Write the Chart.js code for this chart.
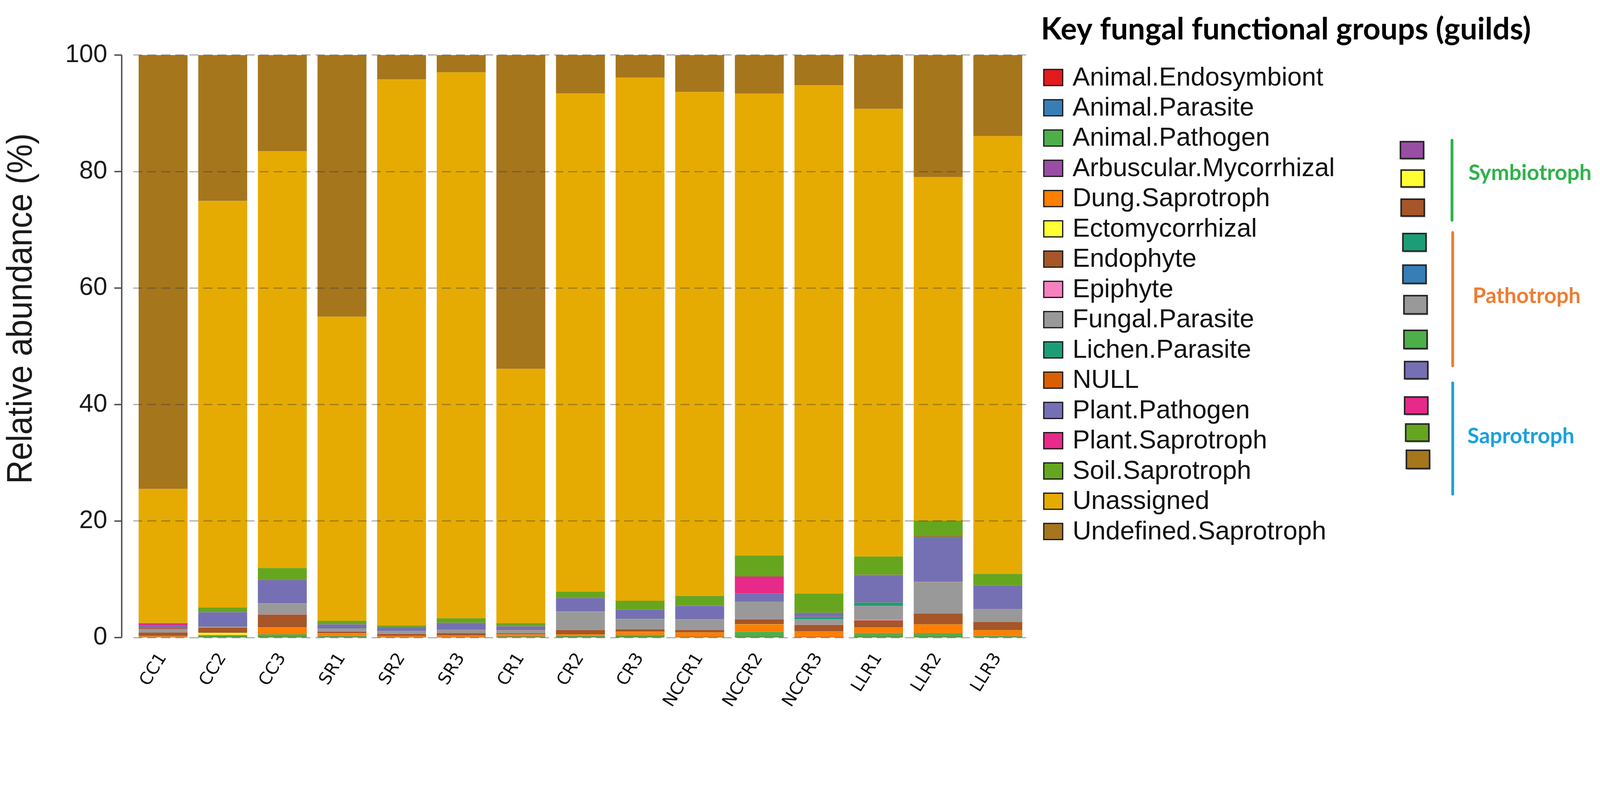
<!DOCTYPE html>
<html>
<head>
<meta charset="utf-8">
<script src="https://cdn.jsdelivr.net/npm/chart.js@4.4.1/dist/chart.umd.min.js"></script>
<style>
html,body{margin:0;padding:0;background:#ffffff;overflow:hidden;}
#wrap{position:absolute;left:0;top:0;width:4562px;height:2043px;transform-origin:0 0;}
canvas{display:block;}
</style>
</head>
<body>
<div id="wrap"><canvas id="chart" width="4562" height="2043" style="width:4562px;height:2043px"></canvas></div>
<script>
// ---------------- DATA (relative abundance, %) ----------------
const samples = ['CC1','CC2','CC3','SR1','SR2','SR3','CR1','CR2','CR3','NCCR1','NCCR2','NCCR3','LLR1','LLR2','LLR3'];

const animalEndosymbiont   = [0.05,0.03,0.04,0.03,0.03,0.03,0.03,0.04,0.03,0.03,0.04,0.03,0.04,0.03,0.03];
const animalParasite       = [0.02,0.02,0.02,0.02,0.02,0.02,0.02,0.03,0.02,0.02,0.03,0.02,0.03,0.03,0.02];
const animalPathogen       = [0.05,0.3,0.5,0.2,0.05,0.05,0.15,0.2,0.4,0.08,0.9,0.05,0.7,0.7,0.2];
const arbuscularMycorrhizal= [0.03,0.02,0.02,0.02,0.02,0.02,0.02,0.02,0.02,0.02,0.02,0.02,0.02,0.02,0.02];
const dungSaprotroph       = [0.1,0.1,1.15,0.45,0.15,0.2,0.3,0.25,0.5,0.7,1.25,0.9,0.95,1.45,0.95];
const ectomycorrhizal      = [0.02,0.35,0.02,0.02,0.02,0.02,0.02,0.02,0.02,0.02,0.02,0.02,0.02,0.02,0.02];
const endophyte            = [0.6,0.9,2.2,0.3,0.35,0.45,0.2,0.75,0.45,0.45,0.9,1.15,1.2,1.9,1.45];
const epiphyte             = [0.02,0.02,0.02,0.02,0.02,0.02,0.02,0.02,0.02,0.02,0.02,0.02,0.1,0.02,0.02];
const fungalParasite       = [0.5,0.1,1.85,0.45,0.45,0.5,0.45,3.1,1.7,1.75,2.95,0.95,2.35,5.35,2.15];
const lichenParasite       = [0.02,0.02,0.02,0.02,0.02,0.02,0.02,0.02,0.02,0.02,0.02,0.35,0.6,0.02,0.02];
const nullGuild            = [0.15,0.03,0.03,0.03,0.03,0.03,0.03,0.03,0.03,0.03,0.03,0.03,0.03,0.03,0.03];
const plantPathogen        = [0.6,2.45,4.0,0.7,0.65,1.15,0.65,2.3,1.6,2.3,1.4,0.7,4.7,7.6,4.05];
const plantSaprotroph      = [0.3,0.02,0.02,0.02,0.02,0.02,0.02,0.02,0.02,0.02,2.9,0.02,0.02,0.15,0.02];
const soilSaprotroph       = [0.05,0.8,2.05,0.6,0.25,0.8,0.55,1.1,1.5,1.7,3.6,3.3,3.15,2.75,1.95];
const unassigned           = [23.0,69.8,71.55,52.2,93.75,93.7,43.65,85.5,89.8,86.5,79.3,87.25,76.85,59.0,75.15];
const undefinedSaprotroph  = [74.6,25.1,16.6,45.0,4.3,3.1,53.9,6.7,3.9,6.5,6.7,5.3,9.4,21.0,14.0];

const yTicks = [0,20,40,60,80,100];

const guildNames = ['Animal.Endosymbiont','Animal.Parasite','Animal.Pathogen','Arbuscular.Mycorrhizal',
  'Dung.Saprotroph','Ectomycorrhizal','Endophyte','Epiphyte','Fungal.Parasite','Lichen.Parasite','NULL',
  'Plant.Pathogen','Plant.Saprotroph','Soil.Saprotroph','Unassigned','Undefined.Saprotroph'];
const guildValues = [animalEndosymbiont,animalParasite,animalPathogen,arbuscularMycorrhizal,dungSaprotroph,
  ectomycorrhizal,endophyte,epiphyte,fungalParasite,lichenParasite,nullGuild,plantPathogen,plantSaprotroph,
  soilSaprotroph,unassigned,undefinedSaprotroph];
const guildColors = ['#E41A1C','#377EB8','#4DAF4A','#984EA3','#FF7F00','#FFFF33','#A65628','#F781BF',
  '#999999','#1B9E77','#D95F02','#7570B3','#E7298A','#66A61E','#E6AB02','#A6761D'];

// trophic-mode grouping shown on the right
const trophicGroups = [
  {name:'Symbiotroph', color:'#2EB24B', members:['Arbuscular.Mycorrhizal','Ectomycorrhizal','Endophyte']},
  {name:'Pathotroph',  color:'#ED7D31', members:['Lichen.Parasite','Animal.Parasite','Fungal.Parasite','Animal.Pathogen','Plant.Pathogen']},
  {name:'Saprotroph',  color:'#1BA1DC', members:['Plant.Saprotroph','Soil.Saprotroph','Undefined.Saprotroph']}
];

// ---------------- LAYOUT (pixels, 4562 x 2043 frame) ----------------
const W = 4562, H = 2043;
const L = {
  plotLeft: 380, plotRight: 2930, plotTop: 157, plotBottom: 1818,
  axisX: 347,
  yTitle: {x: 62, y: 880, len: 1000, size: 102},
  legendTitle: {x: 2968, y: 84, w: 1397},
  legend: {boxX: 2976, boxW: 54, boxH: 46, textX: 3058, y0: 221, dy: 86.3, refW: 748},
  groupBoxes: [ // per-member square positions (x, top, bottom)
    [3993,404,452],[3995,485,533],[3995,568,616],
    [4000,666,716],[4000,756,808],[4003,843,895],[4003,942,994],[4005,1031,1080],
    [4005,1132,1181],[4008,1209,1258],[4010,1284,1336]
  ],
  groupBoxW: 66,
  groupLines: [[4140,400,628],[4142,663,1043],[4142,1092,1409]],
  groupLabels: [[4187,494,351],[4199,845,308],[4184,1244,305]]
};

// fit the fixed 4562x2043 frame into whatever viewport we get
const fitScale = Math.min(window.innerWidth / W, window.innerHeight / H) || 1;
document.getElementById('wrap').style.transform = 'scale(' + fitScale + ')';
const pixelRatio = fitScale * (window.devicePixelRatio || 1);

function fitSize(ctx, text, weight, family, width) {
  ctx.font = weight + ' 100px ' + family;
  return 100 * width / ctx.measureText(text).width;
}

const decorPlugin = {
  id: 'decor',
  afterDraw(chart) {
    const ctx = chart.ctx;
    const ys = chart.scales.y;
    ctx.save();
    // y axis line + ticks
    ctx.strokeStyle = '#4d4d4d';
    ctx.lineWidth = 4;
    ctx.beginPath();
    ctx.moveTo(L.axisX, ys.getPixelForValue(100));
    ctx.lineTo(L.axisX, ys.getPixelForValue(0));
    ctx.stroke();
    yTicks.forEach(v => {
      const py = ys.getPixelForValue(v);
      ctx.beginPath(); ctx.moveTo(L.axisX - 21, py); ctx.lineTo(L.axisX, py); ctx.stroke();
    });
    // y axis title (slightly condensed, as in the original)
    const fam = '"Liberation Sans", Arial, sans-serif';
    const yt = 'Relative abundance (%)';
    ctx.font = 'normal ' + L.yTitle.size + 'px ' + fam;
    const natural = ctx.measureText(yt).width;
    ctx.translate(L.yTitle.x, L.yTitle.y);
    ctx.rotate(-Math.PI/2);
    ctx.scale(L.yTitle.len / natural, 1);
    ctx.fillStyle = '#1a1a1a';
    ctx.textAlign = 'center';
    ctx.textBaseline = 'middle';
    ctx.fillText(yt, 0, 0);
    ctx.restore();

    // legend title
    ctx.save();
    const tf = 'Lato, "Open Sans", sans-serif';
    const tt = 'Key fungal functional groups (guilds)';
    const ts = fitSize(ctx, tt, 'bold', tf, L.legendTitle.w);
    ctx.font = 'bold ' + ts + 'px ' + tf;
    ctx.fillStyle = '#000';
    ctx.textAlign = 'left';
    ctx.textBaseline = 'middle';
    ctx.fillText(tt, L.legendTitle.x, L.legendTitle.y);

    // legend items
    const ls = fitSize(ctx, 'Arbuscular.Mycorrhizal', 'normal', fam, L.legend.refW);
    chart.data.datasets.forEach((ds, i) => {
      const cy = L.legend.y0 + i * L.legend.dy;
      ctx.fillStyle = ds.backgroundColor;
      ctx.fillRect(L.legend.boxX, cy - L.legend.boxH/2, L.legend.boxW, L.legend.boxH);
      ctx.lineWidth = 3.5;
      ctx.strokeStyle = '#1a1a1a';
      ctx.strokeRect(L.legend.boxX, cy - L.legend.boxH/2, L.legend.boxW, L.legend.boxH);
      ctx.font = 'normal ' + ls + 'px ' + fam;
      ctx.fillStyle = '#111';
      ctx.fillText(ds.label, L.legend.textX, cy + 2);
    });

    // trophic group squares, lines and labels
    let k = 0;
    trophicGroups.forEach((g, gi) => {
      g.members.forEach(m => {
        const b = L.groupBoxes[k++];
        const col = guildColors[guildNames.indexOf(m)];
        ctx.fillStyle = 'rgba(0,0,0,0.25)';
        ctx.fillRect(b[0] + 3, b[1] + 4, L.groupBoxW, b[2] - b[1]);
        ctx.fillStyle = col;
        ctx.fillRect(b[0], b[1], L.groupBoxW, b[2] - b[1]);
        ctx.lineWidth = 4.5;
        ctx.strokeStyle = '#262626';
        ctx.strokeRect(b[0], b[1], L.groupBoxW, b[2] - b[1]);
      });
      const ln = L.groupLines[gi];
      ctx.strokeStyle = g.color;
      ctx.lineWidth = 8;
      ctx.lineCap = 'round';
      ctx.beginPath(); ctx.moveTo(ln[0], ln[1]); ctx.lineTo(ln[0], ln[2]); ctx.stroke();
      const lb = L.groupLabels[gi];
      const gs = fitSize(ctx, g.name, 'bold', tf, lb[2]);
      ctx.font = 'bold ' + gs + 'px ' + tf;
      ctx.fillStyle = g.color;
      ctx.textBaseline = 'middle';
      ctx.fillText(g.name, lb[0], lb[1]);
    });
    ctx.restore();
  }
};

const datasets = guildNames.map((name, i) => ({
  label: name,
  data: guildValues[i],
  backgroundColor: guildColors[i],
  borderWidth: 0,
  categoryPercentage: 1.0,
  barPercentage: 0.82
}));

new Chart(document.getElementById('chart'), {
  type: 'bar',
  data: { labels: samples, datasets: datasets },
  plugins: [decorPlugin],
  options: {
    responsive: false,
    devicePixelRatio: pixelRatio,
    animation: false,
    layout: { padding: { left: 0, right: W - L.plotRight, top: L.plotTop, bottom: 0 } },
    plugins: { legend: { display: false }, tooltip: { enabled: false }, title: { display: false } },
    scales: {
      x: {
        stacked: true,
        grid: { display: false, drawTicks: false },
        border: { display: false },
        ticks: {
          autoSkip: false, minRotation: 58, maxRotation: 58, padding: 34,
          color: '#111', font: { family: '"DejaVu Sans", Verdana, sans-serif', size: 49 }
        },
        afterFit: s => { s.height = H - L.plotBottom; }
      },
      y: {
        stacked: true,
        min: 0, max: 100,
        afterFit: s => { s.width = L.plotLeft; },
        afterBuildTicks: s => { s.ticks = yTicks.map(v => ({ value: v })); },
        grid: { color: 'rgba(55,55,55,0.38)', lineWidth: 3.5, drawTicks: false, z: 1 },
        border: { display: false, dash: [26, 14] },
        ticks: {
          padding: 74, color: '#1a1a1a',
          font: { family: '"Liberation Sans", Arial, sans-serif', size: 72 }
        }
      }
    }
  }
});
</script>
</body>
</html>
